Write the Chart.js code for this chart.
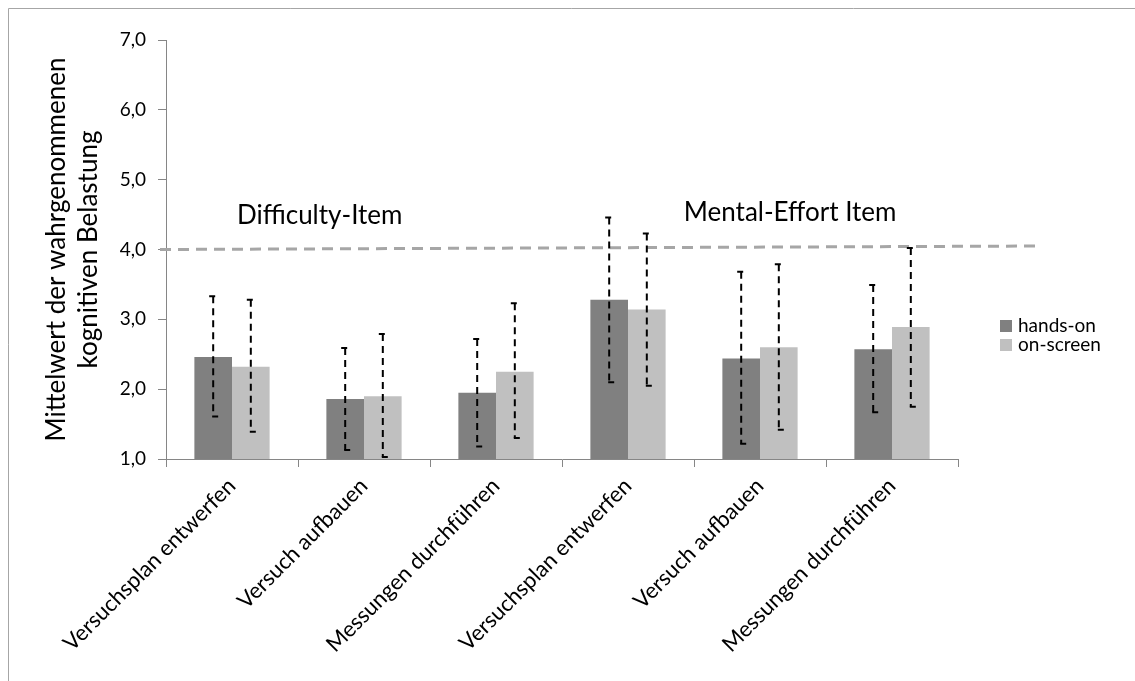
<!DOCTYPE html>
<html>
<head>
<meta charset="utf-8">
<script src="https://cdn.jsdelivr.net/npm/chart.js@4"></script>
<style>
  html, body { margin: 0; padding: 0; background: #fff; }
  #wrap { width: 1135px; height: 681px; }
</style>
</head>
<body>
<div id="wrap"><canvas id="belastung" width="1135" height="681"></canvas></div>
<script>
// Kategorien (zweimal: Difficulty-Item und Mental-Effort Item)
const kategorien = ['Versuchsplan entwerfen', 'Versuch aufbauen', 'Messungen durchführen',
                    'Versuchsplan entwerfen', 'Versuch aufbauen', 'Messungen durchführen'];

// Mittelwerte
const handsOn  = [2.46, 1.86, 1.95, 3.28, 2.44, 2.57];
const onScreen = [2.32, 1.90, 2.25, 3.14, 2.60, 2.89];

// Fehlerbalken (obere / untere Grenze)
const handsOnOben   = [3.33, 2.59, 2.72, 4.46, 3.68, 3.49];
const handsOnUnten  = [1.61, 1.13, 1.18, 2.10, 1.22, 1.67];
const onScreenOben  = [3.28, 2.79, 3.23, 4.23, 3.79, 4.02];
const onScreenUnten = [1.39, 1.03, 1.30, 2.05, 1.42, 1.75];

// Referenzlinie und Gruppenbeschriftungen
const grenzeLinks = 4.0;
const grenzeRechts = 4.05;
const gruppen = ['Difficulty-Item', 'Mental-Effort Item'];

const schrift = 'Lato';

const fehlerbalken = {
    id: 'fehlerbalken',
    afterDatasetsDraw(chart) {
        const ctx = chart.ctx;
        const y = chart.scales.y;
        const grenzen = [[handsOnOben, handsOnUnten], [onScreenOben, onScreenUnten]];
        ctx.save();
        ctx.strokeStyle = '#000';
        ctx.lineWidth = 2;
        chart.data.datasets.forEach((ds, i) => {
            const meta = chart.getDatasetMeta(i);
            meta.data.forEach((bar, j) => {
                const oben = y.getPixelForValue(grenzen[i][0][j]);
                const unten = y.getPixelForValue(grenzen[i][1][j]);
                ctx.setLineDash([7, 5]);
                ctx.beginPath();
                ctx.moveTo(bar.x, oben);
                ctx.lineTo(bar.x, unten);
                ctx.stroke();
                ctx.setLineDash([]);
                ctx.beginPath();
                ctx.moveTo(bar.x - 4, oben);
                ctx.lineTo(bar.x + 2, oben);
                ctx.moveTo(bar.x - 1, unten);
                ctx.lineTo(bar.x + 5, unten);
                ctx.stroke();
            });
        });
        ctx.restore();
    }
};

const extras = {
    id: 'extras',
    beforeDraw(chart) {
        const ctx = chart.ctx;
        ctx.save();
        ctx.fillStyle = '#fff';
        ctx.fillRect(0, 0, chart.width, chart.height);
        // Rahmen
        ctx.strokeStyle = '#a6a6a6';
        ctx.lineWidth = 1;
        ctx.beginPath();
        ctx.moveTo(8.5, chart.height);
        ctx.lineTo(8.5, 8.5);
        ctx.lineTo(chart.width, 8.5);
        ctx.stroke();
        ctx.restore();
    },
    afterDatasetsDraw(chart) {
        const ctx = chart.ctx;
        const x = chart.scales.x;
        const y = chart.scales.y;
        const area = chart.chartArea;
        ctx.save();
        // gestrichelte Linie bei 4,0
        ctx.strokeStyle = '#a6a6a6';
        ctx.lineWidth = 3;
        ctx.setLineDash([11, 7]);
        ctx.beginPath();
        ctx.moveTo(area.left - 6, y.getPixelForValue(grenzeLinks));
        ctx.lineTo(area.right + 82, y.getPixelForValue(grenzeRechts));
        ctx.stroke();
        ctx.setLineDash([]);
        // Gruppentitel
        ctx.fillStyle = '#000';
        ctx.font = '26px ' + schrift;
        ctx.textAlign = 'center';
        ctx.textBaseline = 'middle';
        ctx.fillText(gruppen[0], x.getPixelForDecimal(0.194), y.getPixelForValue(4.48));
        ctx.fillText(gruppen[1], x.getPixelForDecimal(0.788), y.getPixelForValue(4.53));
        // Legende
        ctx.font = '19px ' + schrift;
        ctx.textAlign = 'left';
        chart.data.datasets.forEach((ds, i) => {
            const ly = 326 + i * 19;
            ctx.fillStyle = ds.backgroundColor;
            ctx.fillRect(1000, ly - 6, 12, 12);
            ctx.fillStyle = '#000';
            ctx.fillText(ds.label, 1018, ly);
        });
        ctx.restore();
    }
};

const dataBelastung = {
    labels: kategorien,
    datasets: [{
        label: 'hands-on',
        backgroundColor: '#808080',
        data: handsOn,
    }, {
        label: 'on-screen',
        backgroundColor: '#c0c0c0',
        data: onScreen,
    }]
};

const configBelastung = {
    type: 'bar',
    data: dataBelastung,
    options: {
        responsive: false,
        animation: false,
        layout: { padding: { left: 0, top: 40, right: 177, bottom: 0 } },
        datasets: { bar: { categoryPercentage: 0.57, barPercentage: 1.0 } },
        plugins: {
            legend: { display: false },
            tooltip: { enabled: false }
        },
        scales: {
            x: {
                afterFit: (s) => { s.height = 222; },
                grid: { drawOnChartArea: false, drawTicks: true, tickLength: 8, color: '#868686' },
                border: { color: '#868686', width: 1 },
                ticks: {
                    minRotation: 45, maxRotation: 45, padding: 6,
                    color: '#000', font: { family: schrift, size: 22 }
                }
            },
            y: {
                min: 1, max: 7,
                afterFit: (s) => { s.width = 166; },
                grid: { drawOnChartArea: false, drawTicks: true, tickLength: 8, color: '#868686' },
                border: { color: '#868686', width: 1 },
                ticks: {
                    stepSize: 1, padding: 12, color: '#000',
                    font: { family: schrift, size: 19 },
                    callback: (v) => v.toFixed(1).replace('.', ',')
                },
                title: {
                    display: true,
                    text: ['Mittelwert der wahrgenommenen', 'kognitiven Belastung'],
                    color: '#000',
                    font: { family: schrift, size: 26, lineHeight: 1.23 },
                    padding: { top: 41, bottom: 0 }
                }
            }
        }
    },
    plugins: [extras, fehlerbalken]
};

const myChartBelastung = new Chart(
    document.getElementById('belastung'),
    configBelastung
);
</script>
</body>
</html>
